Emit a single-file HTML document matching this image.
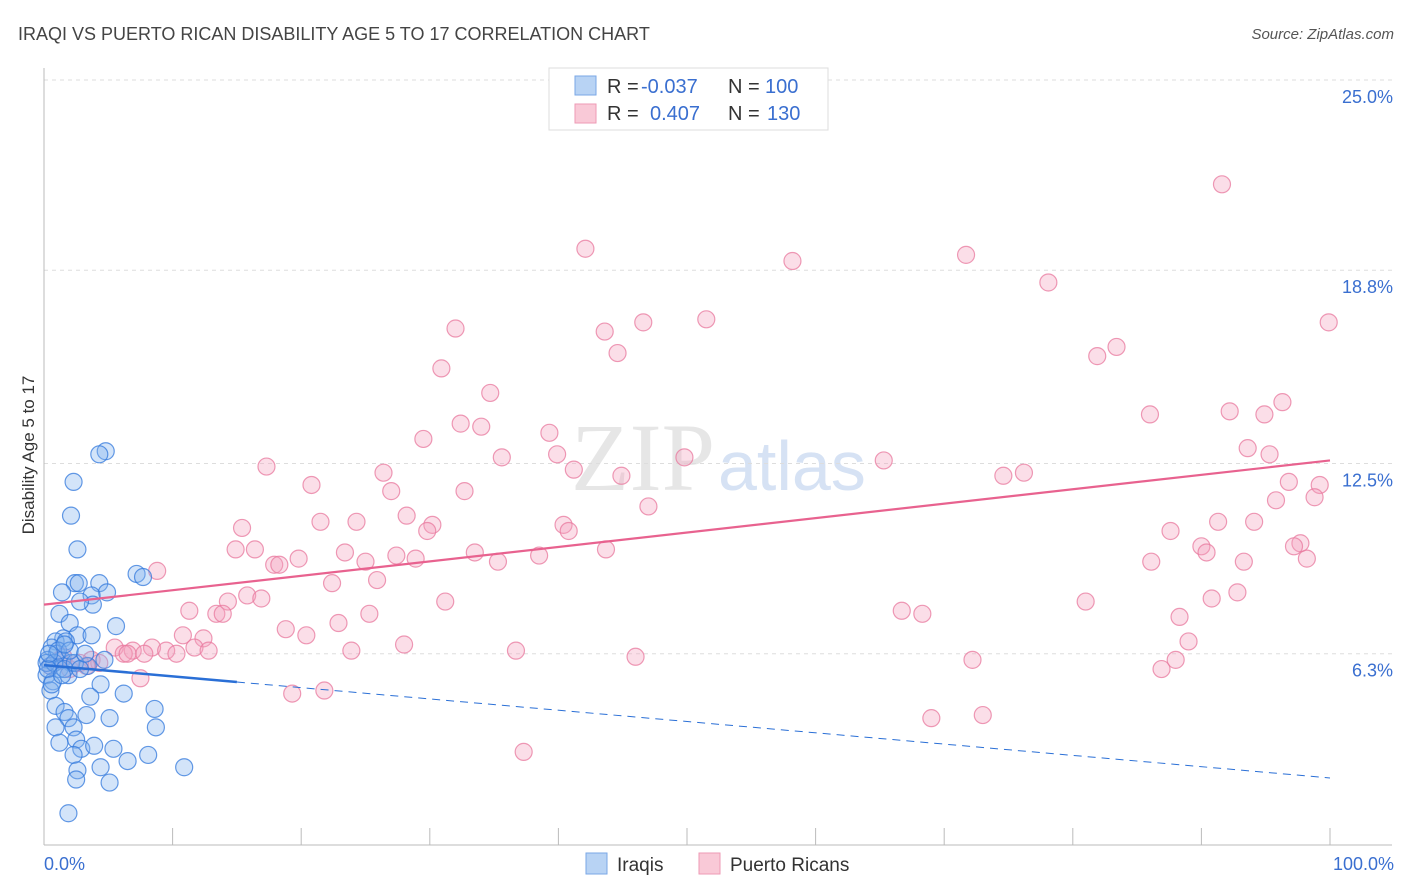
<!DOCTYPE html>
<html><head><meta charset="utf-8"><style>
body{margin:0;background:#fff;font-family:"Liberation Sans",sans-serif;}
svg{display:block}
</style></head><body>
<svg id="chart" width="1406" height="892" xmlns="http://www.w3.org/2000/svg">
<text x="18" y="40" font-size="18" fill="#444">IRAQI VS PUERTO RICAN DISABILITY AGE 5 TO 17 CORRELATION CHART</text>
<text x="1394" y="39" font-size="15" fill="#555" font-style="italic" text-anchor="end">Source: ZipAtlas.com</text>
<text x="715" y="490" font-size="96" fill="#e6e6e6" text-anchor="end" font-family="Liberation Serif,serif">ZIP</text>
<text x="718" y="490" font-size="70" fill="#d6e2f4">atlas</text>
<g id="grid"></g>
<g id="axes"></g>
<g id="pts"></g>
<g id="trend"></g>
<text x="34" y="455" font-size="17" fill="#333" text-anchor="middle" transform="rotate(-90 34 455)">Disability Age 5 to 17</text>
<text x="44" y="870" font-size="18" fill="#3a6fd0">0.0%</text>
<text x="1394" y="870" font-size="18" fill="#3a6fd0" text-anchor="end">100.0%</text>
<g>
<rect x="549" y="68" width="279" height="62" fill="#fff" stroke="#ddd"/>
<rect x="575" y="76" width="21" height="19" fill="#b8d3f4" stroke="#7aa7e6"/>
<rect x="575" y="104" width="21" height="19" fill="#f9c9d7" stroke="#ee9ab4"/>
<text x="607" y="93" font-size="20" fill="#333">R = </text><text x="641" y="93" font-size="20" fill="#3a6fd0">-0.037</text>
<text x="728" y="93" font-size="20" fill="#333">N = </text><text x="765" y="93" font-size="20" fill="#3a6fd0">100</text>
<text x="607" y="120" font-size="20" fill="#333">R = </text><text x="650" y="120" font-size="20" fill="#3a6fd0">0.407</text>
<text x="728" y="120" font-size="20" fill="#333">N = </text><text x="767" y="120" font-size="20" fill="#3a6fd0">130</text>
</g>
<g><rect x="586" y="853" width="21" height="21" fill="#b8d3f4" stroke="#7aa7e6"/><text x="617" y="871" font-size="19" fill="#333">Iraqis</text></g>
<g><rect x="699" y="853" width="21" height="21" fill="#f9c9d7" stroke="#ee9ab4"/><text x="730" y="871" font-size="19" fill="#333">Puerto Ricans</text></g>
</svg>
<script>
const yTicks=[6.3,12.5,18.8,25.0];
const blueX=[4.8,4.3,2.3,2.1,2.6,7.2,7.7,2.4,2.7,4.3,1.4,4.9,3.7,3.8,2.8,1.2,2.0,5.6,2.6,3.7,1.5,0.9,1.7,0.6,1.0,0.3,1.4,2.1,4.7,0.5,1.2,0.2,0.7,1.9,3.4,4.4,3.6,6.2,0.5,0.9,1.6,1.9,3.3,5.1,8.6,8.7,0.9,2.3,1.2,2.5,2.9,3.9,2.3,5.4,8.1,4.4,6.5,10.9,2.6,2.5,5.1,1.9,0.2,0.8,1.6,2.4,2.8,0.3,1.1,2.0,3.2,0.6,1.4,1.6,0.4];
const blueY=[12.9,12.8,11.9,10.8,9.7,8.9,8.8,8.6,8.6,8.6,8.3,8.3,8.2,7.9,8.0,7.6,7.3,7.2,6.9,6.9,6.8,6.7,6.7,6.5,6.3,6.1,6.1,6.0,6.1,5.9,5.8,5.6,5.4,5.6,5.9,5.3,4.9,5.0,5.1,4.6,4.4,4.2,4.3,4.2,4.5,3.9,3.9,3.9,3.4,3.5,3.2,3.3,3.0,3.2,3.0,2.6,2.8,2.6,2.5,2.2,2.1,1.1,6.0,6.0,5.8,6.0,5.8,5.8,6.4,6.4,6.3,5.3,5.6,6.6,6.3];
const pinkX=[91.6,42.1,58.2,71.7,78.1,99.9,51.5,46.6,43.6,32.0,44.6,83.4,81.9,30.9,34.7,86.0,92.2,94.9,96.3,32.4,34.0,29.5,39.3,35.6,39.9,49.8,65.3,93.6,95.3,17.3,26.4,41.2,44.9,74.6,76.2,96.8,99.2,20.8,27.0,32.7,95.8,98.8,47.0,28.2,30.2,29.8,40.4,40.8,91.3,94.1,87.6,21.5,24.3,15.4,14.9,16.4,19.8,23.4,33.5,38.5,43.7,90.0,90.4,93.3,97.7,97.2,98.2,17.9,18.3,25.0,27.4,28.9,35.3,86.1,8.8,22.4,25.9,15.8,16.9,14.3,31.2,81.0,90.8,92.8,11.3,13.4,13.9,25.3,66.7,68.3,88.3,18.8,22.9,10.8,12.4,20.4,28.0,89.0,5.5,6.9,8.4,9.5,10.3,11.7,12.8,23.9,36.7,6.2,6.5,7.8,46.0,72.2,88.0,86.9,3.7,4.3,3.3,7.5,19.3,21.8,69.0,73.0,37.3,0.5,1.2,2.0,2.8,1.5];
const pinkY=[21.6,19.5,19.1,19.3,18.4,17.1,17.2,17.1,16.8,16.9,16.1,16.3,16.0,15.6,14.8,14.1,14.2,14.1,14.5,13.8,13.7,13.3,13.5,12.7,12.8,12.7,12.6,13.0,12.8,12.4,12.2,12.3,12.1,12.1,12.2,11.9,11.8,11.8,11.6,11.6,11.3,11.4,11.1,10.8,10.5,10.3,10.5,10.3,10.6,10.6,10.3,10.6,10.6,10.4,9.7,9.7,9.4,9.6,9.6,9.5,9.7,9.8,9.6,9.3,9.9,9.8,9.4,9.2,9.2,9.3,9.5,9.4,9.3,9.3,9.0,8.6,8.7,8.2,8.1,8.0,8.0,8.0,8.1,8.3,7.7,7.6,7.6,7.6,7.7,7.6,7.5,7.1,7.3,6.9,6.8,6.9,6.6,6.7,6.5,6.4,6.5,6.4,6.3,6.5,6.4,6.4,6.4,6.3,6.3,6.3,6.2,6.1,6.1,5.8,6.1,6.0,5.9,5.5,5.0,5.1,4.2,4.3,3.1,5.9,6.1,5.8,6.0,6.2];
const pinkTrend=[7.9,12.6];
const blueTrend=[5.93,2.25];
const blueSolidEnd=15;
const NS='http://www.w3.org/2000/svg';
const X0=44,X1=1330,Y0=847,YTOP=80;
const xs=v=>X0+(X1-X0)*v/100;
const ys=v=>Y0-(Y0-YTOP)*v/25;
function mk(t,a,p){const e=document.createElementNS(NS,t);for(const k in a)e.setAttribute(k,a[k]);document.getElementById(p).appendChild(e);return e;}
yTicks.forEach(t=>{
 const l=mk('line',{x1:44,x2:1392,y1:ys(t),y2:ys(t),stroke:'#ddd','stroke-dasharray':'4,4'},'grid');
 
 
 const tx=mk('text',{x:1393,y:ys(t)+23,'font-size':18,fill:'#3a6fd0','text-anchor':'end'},'grid');
 tx.textContent=t.toFixed(1)+'%';
 
 
});
let a=mk('line',{x1:44,x2:44,y1:68,y2:845,stroke:'#bbb'},'axes');


a=mk('line',{x1:44,x2:1392,y1:845,y2:845,stroke:'#bbb'},'axes');


for(let i=0;i<=10;i++){const t=mk('line',{x1:xs(i*10),x2:xs(i*10),y1:828,y2:845,stroke:'#bbb'},'axes');
 
 }
pinkX.forEach((v,i)=>{const c=mk('circle',{cx:xs(v),cy:ys(pinkY[i]),r:8.5,fill:'rgba(244,160,188,0.35)',stroke:'rgba(232,120,158,0.75)','stroke-width':1.2},'pts');
 
 });
blueX.forEach((v,i)=>{const c=mk('circle',{cx:xs(v),cy:ys(blueY[i]),r:8.5,fill:'rgba(130,178,238,0.35)',stroke:'rgba(50,120,220,0.75)','stroke-width':1.2},'pts');
 
 });
let l=mk('line',{x1:xs(0),y1:ys(pinkTrend[0]),x2:xs(100),y2:ys(pinkTrend[1]),stroke:'#e8628f','stroke-width':2.2},'trend');


const bAt=v=>blueTrend[0]+(blueTrend[1]-blueTrend[0])*v/100;
l=mk('line',{x1:xs(0),y1:ys(bAt(0)),x2:xs(blueSolidEnd),y2:ys(bAt(blueSolidEnd)),stroke:'#2a6fd6','stroke-width':2.5},'trend');


l=mk('line',{x1:xs(blueSolidEnd),y1:ys(bAt(blueSolidEnd)),x2:xs(100),y2:ys(bAt(100)),stroke:'#2a6fd6','stroke-width':1,'stroke-dasharray':'8,6'},'trend');


</script>
</body></html>
